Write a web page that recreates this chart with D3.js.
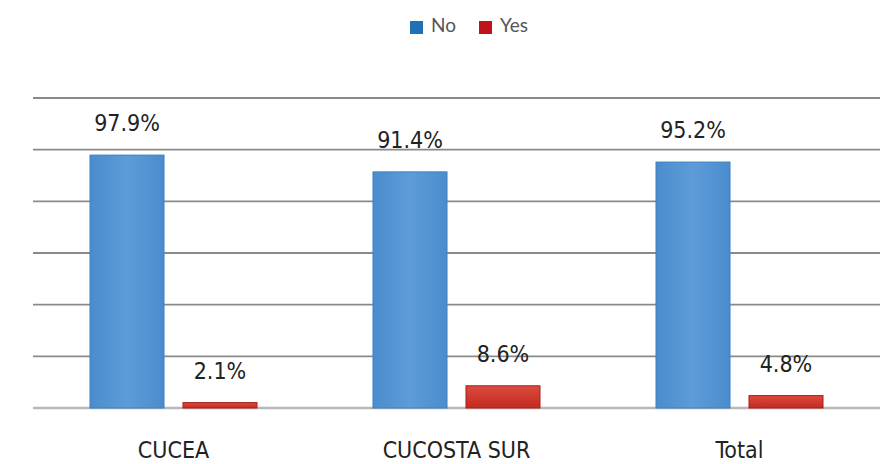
<!DOCTYPE html>
<html><head><meta charset="utf-8">
<script src="https://cdn.jsdelivr.net/npm/d3@7"></script>
<style>html,body{margin:0;padding:0;background:#fff;}</style>
</head><body><svg id="c" width="886" height="464"></svg>
<script>
const categories = ["CUCEA", "CUCOSTA SUR", "Total"];
const seriesNames = ["No", "Yes"];
const noValues = [97.9, 91.4, 95.2];
const yesValues = [2.1, 8.6, 4.8];
const valueLabels = [["97.9%", "2.1%"], ["91.4%", "8.6%"], ["95.2%", "4.8%"]];
const gridTicks = [0, 20, 40, 60, 80, 100, 120];

(function(){
const svg = d3.select("#c");
const mLeft = 32, mRight = 881, mTop = 98, mBottom = 408;
const x = d3.scaleBand().domain(categories).range([mLeft, mRight]).paddingInner(0).paddingOuter(0);
const inner = d3.scaleBand().domain(seriesNames).range([58, 225]).paddingInner(0.204);
const y = d3.scaleLinear().domain([0, 120]).range([mBottom, mTop]);

const defs = svg.append("defs");
const gb = defs.append("linearGradient").attr("id","gb").attr("x1",0).attr("x2",1).attr("y1",0).attr("y2",0);
gb.append("stop").attr("offset","0%").attr("stop-color","#4a8ccd");
gb.append("stop").attr("offset","50%").attr("stop-color","#5d9cd8");
gb.append("stop").attr("offset","100%").attr("stop-color","#4a8ccd");
const gr = defs.append("linearGradient").attr("id","gr").attr("x1",0).attr("x2",0).attr("y1",0).attr("y2",1);
gr.append("stop").attr("offset","0%").attr("stop-color","#dc4a3e");
gr.append("stop").attr("offset","100%").attr("stop-color","#c42a20");

svg.append("g").selectAll("line").data(gridTicks).join("line")
  .attr("x1", 33).attr("x2", 880)
  .attr("y1", d => y(d)).attr("y2", d => y(d))
  .attr("stroke", d => d === 0 ? "#b8b8b8" : "#8a8a8a")
  .attr("stroke-width", d => d === 0 ? 2.5 : 1.8);

const data = categories.map((c, i) => ({cat: c, vals: [
  {s: "No", v: noValues[i], lab: valueLabels[i][0]},
  {s: "Yes", v: yesValues[i], lab: valueLabels[i][1]}]}));

const g = svg.append("g").selectAll("g").data(data).join("g")
  .attr("transform", d => `translate(${x(d.cat)},0)`);

g.selectAll("rect").data(d => d.vals).join("rect")
  .attr("x", d => inner(d.s)).attr("width", inner.bandwidth())
  .attr("y", d => y(d.v)).attr("height", d => y(0) - y(d.v))
  .attr("fill", d => d.s === "No" ? "url(#gb)" : "url(#gr)")
  .attr("stroke", d => d.s === "No" ? "#3f7fbf" : "#a8201a")
  .attr("stroke-width", 1);

g.selectAll("text").data(d => d.vals).join("text")
  .attr("x", d => inner(d.s) + inner.bandwidth() / 2)
  .attr("y", d => y(d.v) - 24)
  .attr("text-anchor", "middle")
  .attr("font-family", "DejaVu Sans Condensed, DejaVu Sans, sans-serif")
  .attr("font-size", 23).attr("fill", "#222")
  .text(d => d.lab);

svg.append("g").selectAll("text").data(categories).join("text")
  .attr("x", d => x(d) + x.bandwidth() / 2)
  .attr("y", 458)
  .attr("text-anchor", "middle")
  .attr("font-family", "DejaVu Sans Condensed, DejaVu Sans, sans-serif")
  .attr("font-size", 23).attr("fill", "#222")
  .text(d => d);

const legendColors = {"No": "#1f70b5", "Yes": "#c0141c"};
const legendX = {"No": 410, "Yes": 479};
const lg = svg.append("g").selectAll("g").data(seriesNames).join("g")
  .attr("transform", d => `translate(${legendX[d]},0)`);
lg.append("rect").attr("width", 13).attr("height", 13).attr("y", 21)
  .attr("fill", d => legendColors[d]);
lg.append("text").attr("x", 21).attr("y", 32)
  .attr("font-family", "Lato, 'Open Sans', sans-serif")
  .attr("font-size", 19).attr("fill", "#555")
  .text(d => d);
})();
</script></body></html>
